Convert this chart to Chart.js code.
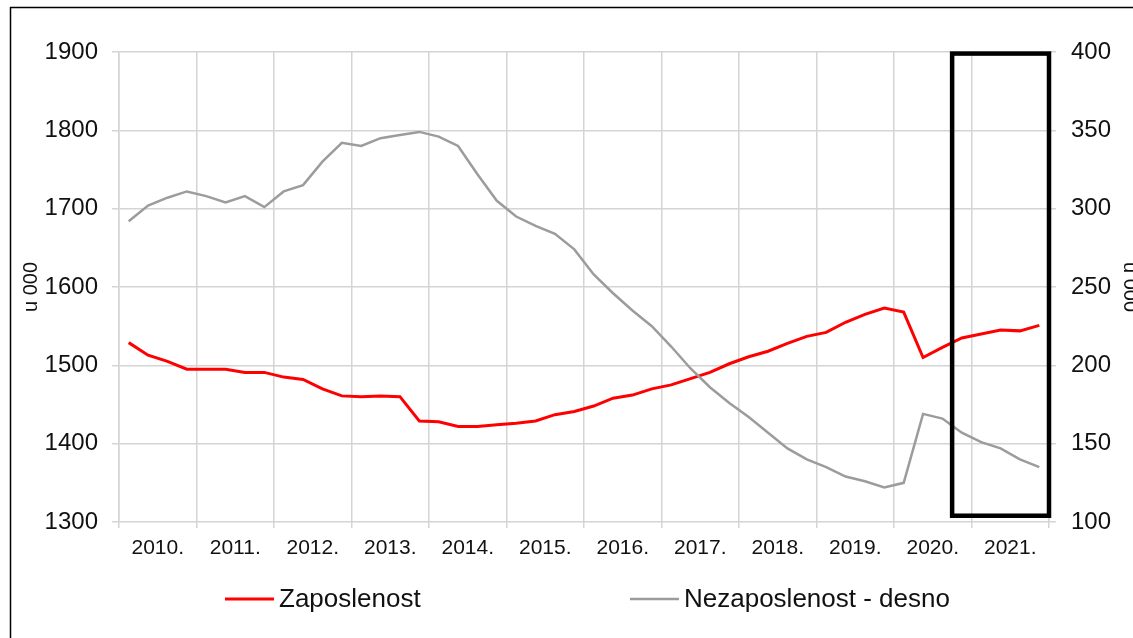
<!DOCTYPE html>
<html>
<head>
<meta charset="utf-8">
<script src="https://cdn.jsdelivr.net/npm/chart.js@4.4.1/dist/chart.umd.min.js"></script>
<style>
  html, body { margin: 0; padding: 0; background: #fff; overflow: hidden; }
  #wrap { position: relative; width: 1133px; height: 638px; }
</style>
</head>
<body>
<div id="wrap"><canvas id="canvasChart" width="1133" height="638"></canvas></div>
<script>
// godine (oznake na x osi) i kvartali
var years = ['2010.', '2011.', '2012.', '2013.', '2014.', '2015.', '2016.', '2017.', '2018.', '2019.', '2020.', '2021.'];
var quarterNames = ['I', 'II', 'III', 'IV'];
var quarters = [];
years.forEach(y => {
  quarterNames.forEach(q => quarters.push(q + ' ' + y));
});

// u 000, leva osa
var zaposlenost = [
  1529, 1513, 1505, 1495, 1495, 1495, 1491, 1491, 1485, 1482, 1470, 1461,
  1460, 1461, 1460, 1429, 1428, 1422, 1422, 1424, 1426, 1429, 1437, 1441,
  1448, 1458, 1462, 1470, 1475, 1483, 1491, 1502, 1511, 1518, 1528, 1537,
  1542, 1555, 1565, 1573, 1568, 1510, 1523, 1535, 1540, 1545, 1544, 1551
];

// u 000, desna osa
var nezaposlenost = [
  292, 302, 307, 311, 308, 304, 308, 301, 311, 315, 330, 342,
  340, 345, 347, 349, 346, 340, 322, 305, 295, 289, 284, 274,
  258, 246, 235, 225, 212, 198, 186, 176, 167, 157, 147, 140,
  135, 129, 126, 122, 125, 169, 166, 157, 151, 147, 140, 135
];

var leftTicks = [1300, 1400, 1500, 1600, 1700, 1800, 1900];
var rightTicks = [100, 150, 200, 250, 300, 350, 400];

// okvir oko 2020 Q4 - 2021
var boxFrom = 43;
var boxTo = 47;
var boxTop = 399;
var boxBottom = 104;

var fontFamily = "'Liberation Sans', Arial, sans-serif";
var gridColor = '#d4d4d4';

const frame = {
  id: 'frame',
  beforeDraw(chart) {
    const ctx = chart.ctx;
    ctx.save();
    ctx.strokeStyle = '#000';
    ctx.lineWidth = 1.5;
    ctx.beginPath();
    ctx.moveTo(10.5, chart.height);
    ctx.lineTo(10.5, 7.5);
    ctx.lineTo(chart.width, 7.5);
    ctx.stroke();
    ctx.restore();
  }
};

const highlightBox = {
  id: 'highlightBox',
  afterDatasetsDraw(chart) {
    const x = chart.scales.x;
    const y2 = chart.scales.y2;
    const half = (x.getPixelForValue(1) - x.getPixelForValue(0)) / 2;
    const left = x.getPixelForValue(boxFrom) - half;
    const right = x.getPixelForValue(boxTo) + half;
    const top = y2.getPixelForValue(boxTop);
    const bottom = y2.getPixelForValue(boxBottom);
    const ctx = chart.ctx;
    ctx.save();
    ctx.strokeStyle = '#000';
    ctx.lineWidth = 4.5;
    ctx.strokeRect(left, top, right - left, bottom - top);
    ctx.restore();
  }
};

const customLegend = {
  id: 'customLegend',
  afterDraw(chart) {
    const ctx = chart.ctx;
    const items = [
      { ds: chart.data.datasets[0], x: 225 },
      { ds: chart.data.datasets[1], x: 630 }
    ];
    const y = 599;
    ctx.save();
    ctx.font = '26px ' + fontFamily;
    ctx.textBaseline = 'middle';
    ctx.textAlign = 'left';
    items.forEach(it => {
      ctx.strokeStyle = it.ds.borderColor;
      ctx.lineWidth = it.ds.borderWidth;
      ctx.beginPath();
      ctx.moveTo(it.x, y);
      ctx.lineTo(it.x + 49, y);
      ctx.stroke();
      ctx.fillStyle = '#111';
      ctx.fillText(it.ds.label, it.x + 54, y + 1);
    });
    ctx.restore();
  }
};

var canvas = document.getElementById('canvasChart');
var chart = new Chart(canvas, {
  type: 'line',
  data: {
    labels: quarters,
    datasets: [{
      label: 'Zaposlenost',
      data: zaposlenost,
      yAxisID: 'y',
      borderColor: '#ff0000',
      borderWidth: 3,
      pointRadius: 0,
      tension: 0,
      fill: false,
      order: 1
    }, {
      label: 'Nezaposlenost - desno',
      data: nezaposlenost,
      yAxisID: 'y2',
      borderColor: '#9c9c9c',
      borderWidth: 2.5,
      pointRadius: 0,
      tension: 0,
      fill: false,
      order: 0
    }]
  },
  options: {
    responsive: false,
    animation: false,
    layout: { padding: { top: 52, left: 0, right: 0, bottom: 0 } },
    plugins: {
      legend: { display: false },
      tooltip: { enabled: false }
    },
    scales: {
      x: {
        type: 'category',
        display: false,
        offset: true
      },
      x2: {
        type: 'category',
        labels: years,
        position: 'bottom',
        offset: true,
        grid: {
          offset: true,
          color: gridColor,
          lineWidth: 1.5,
          tickLength: 6
        },
        border: { display: false },
        ticks: {
          color: '#111',
          padding: 8,
          maxRotation: 0,
          autoSkip: false,
          font: { family: fontFamily, size: 21 }
        },
        afterFit(scale) { scale.height = 116; }
      },
      y: {
        position: 'left',
        min: leftTicks[0],
        max: leftTicks[leftTicks.length - 1],
        afterBuildTicks(scale) { scale.ticks = leftTicks.map(v => ({ value: v })); },
        grid: { color: gridColor, lineWidth: 1.5, tickLength: 7 },
        border: { color: gridColor, width: 1.5 },
        ticks: {
          color: '#111',
          padding: 14,
          font: { family: fontFamily, size: 24 },
          callback: v => String(v)
        },
        title: {
          display: true,
          text: 'u 000',
          color: '#111',
          padding: { top: 19, bottom: 0 },
          font: { family: fontFamily, size: 20 }
        },
        afterFit(scale) { scale.width = 119; }
      },
      y2: {
        position: 'right',
        min: rightTicks[0],
        max: rightTicks[rightTicks.length - 1],
        afterBuildTicks(scale) { scale.ticks = rightTicks.map(v => ({ value: v })); },
        grid: { drawOnChartArea: false, color: gridColor, lineWidth: 1.5, tickLength: 7 },
        border: { color: gridColor, width: 1.5 },
        ticks: {
          color: '#111',
          padding: 15,
          font: { family: fontFamily, size: 24 },
          callback: v => String(v)
        },
        title: {
          display: true,
          text: 'u 000',
          color: '#111',
          padding: { top: -9, bottom: 0 },
          font: { family: fontFamily, size: 20 }
        },
        afterFit(scale) { scale.width = 84; }
      }
    }
  },
  plugins: [frame, highlightBox, customLegend]
});
</script>
</body>
</html>
